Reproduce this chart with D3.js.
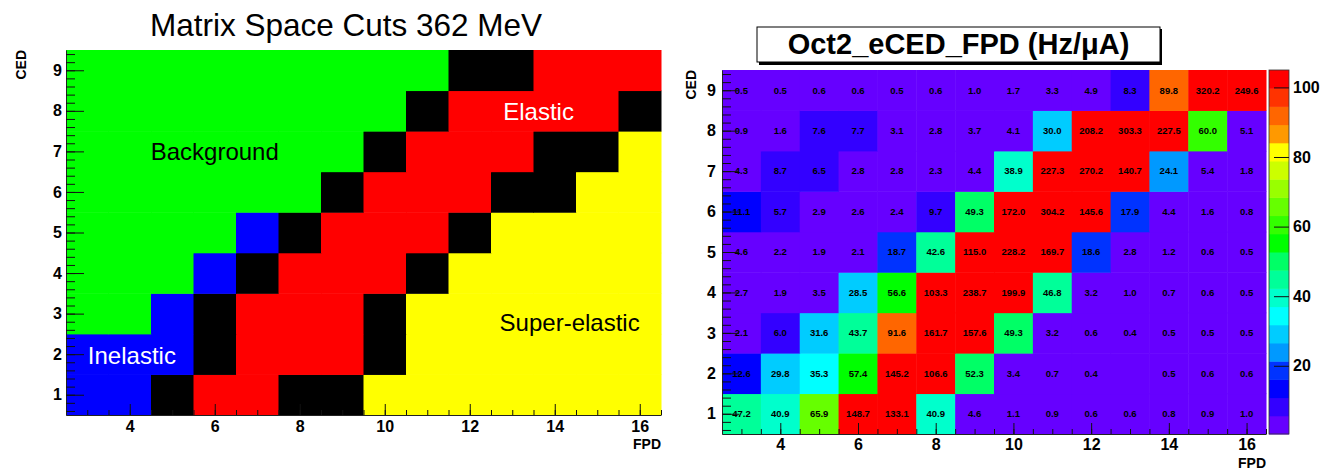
<!DOCTYPE html>
<html>
<head>
<meta charset="utf-8">
<script src="https://cdn.jsdelivr.net/npm/d3@7"></script>
<style>
  body { margin: 0; background: #fff; }
  text { font-family: "Liberation Sans", Arial, Helvetica, sans-serif; }
</style>
</head>
<body>
<svg id="chart" width="1321" height="470"></svg>
<script>
var fpdBins = d3.range(3, 17);   // 3..16
var cedBins = d3.range(1, 10);   // 1..9

// cut regions, one string per CED row (1..9), one letter per FPD bin (3..16)
// G = background, B = inelastic, K = gap, R = elastic, Y = super-elastic
var cutRows = [
  "BBKRRKKYYYYYYY",
  "BBBKRRRKYYYYYY",
  "GGBKRRRKYYYYYY",
  "GGGBKRRRKYYYYY",
  "GGGGBKRRRKYYYY",
  "GGGGGGKRRRKKYY",
  "GGGGGGGKRRRKKY",
  "GGGGGGGGKRRRRK",
  "GGGGGGGGGKKRRR"
];
var cutColors = {G: "#00ff00", B: "#0000ff", K: "#000000", R: "#ff0000", Y: "#ffff00"};

var regionNames = ["Background", "Elastic", "Super-elastic", "Inelastic"];
var regionFpd   = [6.0, 13.62, 14.35, 4.05];
var regionCed   = [6.8, 7.77, 2.57, 1.76];
var regionInk   = ["#000", "#fff", "#000", "#fff"];

// rates (Hz/uA), one array per CED row (1..9), FPD 3..16
var rates = [
  [47.2, 40.9, 65.9, 148.7, 133.1, 40.9, 4.6, 1.1, 0.9, 0.6, 0.6, 0.8, 0.9, 1.0],
  [12.6, 29.8, 35.3, 57.4, 145.2, 106.6, 52.3, 3.4, 0.7, 0.4, null, 0.5, 0.6, 0.6],
  [2.1, 6.0, 31.6, 43.7, 91.6, 161.7, 157.6, 49.3, 3.2, 0.6, 0.4, 0.5, 0.5, 0.5],
  [2.7, 1.9, 3.5, 28.5, 56.6, 103.3, 238.7, 199.9, 46.8, 3.2, 1.0, 0.7, 0.6, 0.5],
  [4.6, 2.2, 1.9, 2.1, 18.7, 42.6, 115.0, 228.2, 169.7, 18.6, 2.8, 1.2, 0.6, 0.5],
  [11.1, 5.7, 2.9, 2.6, 2.4, 9.7, 49.3, 172.0, 304.2, 145.6, 17.9, 4.4, 1.6, 0.8],
  [4.3, 8.7, 6.5, 2.8, 2.8, 2.3, 4.4, 38.9, 227.3, 270.2, 140.7, 24.1, 5.4, 1.8],
  [0.9, 1.6, 7.6, 7.7, 3.1, 2.8, 3.7, 4.1, 30.0, 208.2, 303.3, 227.5, 60.0, 5.1],
  [0.5, 0.5, 0.6, 0.6, 0.5, 0.6, 1.0, 1.7, 3.3, 4.9, 8.3, 89.8, 320.2, 249.6]
];

var zMin = 0.4, zMax = 105;
var zTicks = [20, 40, 60, 80, 100];
var palette = ["#6600ff", "#3300ff", "#0000ff", "#0033ff", "#0099ff", "#00ccff", "#00ffff",
               "#00ffcc", "#00ff99", "#00ff66", "#00ff00", "#33ff00", "#66ff00", "#99ff00",
               "#ccff00", "#ffff00", "#ff9900", "#ff6600", "#ff3300", "#ff0000"];

var xMajor = [4, 6, 8, 10, 12, 14, 16];
var xMinor = d3.range(2.5, 16.51, 0.5);
var yMinor = d3.range(0.6, 9.45, 0.2);

var svg = d3.select("#chart");

function drawAxes(g, x, y, opt) {
  var gx = g.append("g").attr("transform", "translate(0," + y.range()[0] + ")");
  gx.call(d3.axisBottom(x).tickValues(xMinor).tickSize(-opt.xMinorLen).tickSizeOuter(0).tickFormat(""));
  gx.append("g").call(d3.axisBottom(x).tickValues(xMajor).tickSize(-opt.xMajorLen).tickSizeOuter(0).tickPadding(opt.xPad).tickFormat(d3.format("d")))
    .select(".domain").remove();
  var gy = g.append("g").attr("transform", "translate(" + x.range()[0] + ",0)");
  gy.call(d3.axisLeft(y).tickValues(yMinor).tickSize(-opt.yMinorLen).tickSizeOuter(0).tickFormat(""));
  gy.append("g").call(d3.axisLeft(y).tickValues(cedBins).tickSize(-opt.yMajorLen).tickSizeOuter(0).tickPadding(opt.yPad).tickFormat(d3.format("d")))
    .select(".domain").remove();
  g.selectAll(".tick line").attr("stroke", "#111");
  g.selectAll(".domain").attr("stroke", "#222");
  g.selectAll(".tick text").attr("fill", "#000").attr("font-size", 16).attr("font-weight", "bold")
    .attr("font-family", "'Liberation Sans', Arial, sans-serif");

  g.append("text")
      .attr("x", x.range()[1])
      .attr("y", opt.fpdY)
      .attr("text-anchor", "end")
      .attr("font-size", 14)
      .attr("font-weight", "bold")
      .text("FPD");
  g.append("text")
      .attr("transform", "translate(" + opt.cedX + "," + y.range()[1] + ") rotate(-90)")
      .attr("text-anchor", "end")
      .attr("font-size", 14)
      .attr("font-weight", "bold")
      .text("CED");
}

// ---- left panel: cut regions ----
var xL = d3.scaleLinear().domain([2.5, 16.5]).range([66, 661]);
var yL = d3.scaleLinear().domain([0.5, 9.5]).range([415, 50]);
var left = svg.append("g");

var cutCells = [];
cutRows.forEach(function(row, i) {
  fpdBins.forEach(function(f, j) {
    cutCells.push({fpd: f, ced: cedBins[i], code: row[j]});
  });
});

left.selectAll("rect.cut")
  .data(cutCells)
  .enter().append("rect")
    .attr("class", "cut")
    .attr("x", function(d) { return xL(d.fpd - 0.5); })
    .attr("y", function(d) { return yL(d.ced + 0.5); })
    .attr("width", function(d) { return xL(d.fpd + 0.5) - xL(d.fpd - 0.5) + 0.5; })
    .attr("height", function(d) { return yL(d.ced - 0.5) - yL(d.ced + 0.5) + 0.5; })
    .attr("fill", function(d) { return cutColors[d.code]; });

left.selectAll("text.region")
  .data(regionNames)
  .enter().append("text")
    .attr("class", "region")
    .attr("x", function(d, i) { return xL(regionFpd[i]); })
    .attr("y", function(d, i) { return yL(regionCed[i]); })
    .attr("text-anchor", "middle")
    .attr("font-size", 24)
    .attr("fill", function(d, i) { return regionInk[i]; })
    .text(function(d) { return d; });

drawAxes(left, xL, yL, {xMinorLen: 5, xMajorLen: 11, yMinorLen: 9, yMajorLen: 18,
                        xPad: 6, yPad: 4, fpdY: 449, cedX: 26});

left.append("text")
    .attr("x", 346)
    .attr("y", 36)
    .attr("text-anchor", "middle")
    .attr("font-size", 31.5)
    .text("Matrix Space Cuts 362 MeV");

// ---- right panel: rate map ----
var xR = d3.scaleLinear().domain([2.5, 16.5]).range([722, 1266]);
var yR = d3.scaleLinear().domain([0.5, 9.5]).range([434, 70]);
var color = d3.scaleQuantize().domain([zMin, zMax]).range(palette);
var right = svg.append("g");

var rateCells = [];
rates.forEach(function(row, i) {
  fpdBins.forEach(function(f, j) {
    rateCells.push({fpd: f, ced: cedBins[i], value: row[j]});
  });
});

right.selectAll("rect.rate")
  .data(rateCells)
  .enter().append("rect")
    .attr("class", "rate")
    .attr("x", function(d) { return xR(d.fpd - 0.5); })
    .attr("y", function(d) { return yR(d.ced + 0.5); })
    .attr("width", function(d) { return xR(d.fpd + 0.5) - xR(d.fpd - 0.5) + 0.5; })
    .attr("height", function(d) { return yR(d.ced - 0.5) - yR(d.ced + 0.5) + 0.5; })
    .attr("fill", function(d) { return color(d.value == null ? zMin : d.value); });

right.selectAll("text.rate")
  .data(rateCells.filter(function(d) { return d.value != null; }))
  .enter().append("text")
    .attr("class", "rate")
    .attr("x", function(d) { return xR(d.fpd); })
    .attr("y", function(d) { return yR(d.ced); })
    .attr("dy", "0.35em")
    .attr("text-anchor", "middle")
    .attr("font-size", 9.5)
    .attr("font-weight", "bold")
    .attr("fill", "#000")
    .text(function(d) { return d.value.toFixed(1); });

drawAxes(right, xR, yR, {xMinorLen: 5, xMajorLen: 11, yMinorLen: 9, yMajorLen: 17,
                         xPad: 5, yPad: 6, fpdY: 468, cedX: 696});

// colour bar
var zScale = d3.scaleLinear().domain([zMin, zMax]).range([434, 70]);
var bar = right.append("g");
var bandEdges = d3.range(0, 21).map(function(k) { return zMin + k * (zMax - zMin) / 20; });
bar.selectAll("rect")
  .data(palette)
  .enter().append("rect")
    .attr("x", 1269)
    .attr("y", function(d, i) { return zScale(bandEdges[i + 1]); })
    .attr("width", 20)
    .attr("height", function(d, i) { return zScale(bandEdges[i]) - zScale(bandEdges[i + 1]) + 0.5; })
    .attr("fill", function(d) { return d; });
bar.append("rect")
    .attr("x", 1269).attr("y", 70).attr("width", 20).attr("height", 364)
    .attr("fill", "none").attr("stroke", "#333").attr("stroke-width", 0.8);
var zAxis = bar.append("g")
    .attr("transform", "translate(1289,0)")
    .call(d3.axisRight(zScale).tickValues(zTicks).tickSize(-15).tickSizeOuter(0).tickPadding(4));
zAxis.select(".domain").remove();
zAxis.selectAll(".tick line").attr("stroke", "#111");
zAxis.selectAll(".tick text").attr("fill", "#000").attr("font-size", 16).attr("font-weight", "bold")
    .attr("font-family", "'Liberation Sans', Arial, sans-serif");

// title box
var tb = right.append("g");
tb.append("rect").attr("x", 759).attr("y", 29).attr("width", 403).attr("height", 36).attr("fill", "#000");
tb.append("rect").attr("x", 757).attr("y", 27).attr("width", 403).attr("height", 35)
    .attr("fill", "#fff").attr("stroke", "#000").attr("stroke-width", 1);
tb.append("text")
    .attr("x", 958.5)
    .attr("y", 54)
    .attr("text-anchor", "middle")
    .attr("font-size", 29)
    .attr("font-weight", "bold")
    .text("Oct2_eCED_FPD (Hz/\u03bcA)");
</script>
</body>
</html>
